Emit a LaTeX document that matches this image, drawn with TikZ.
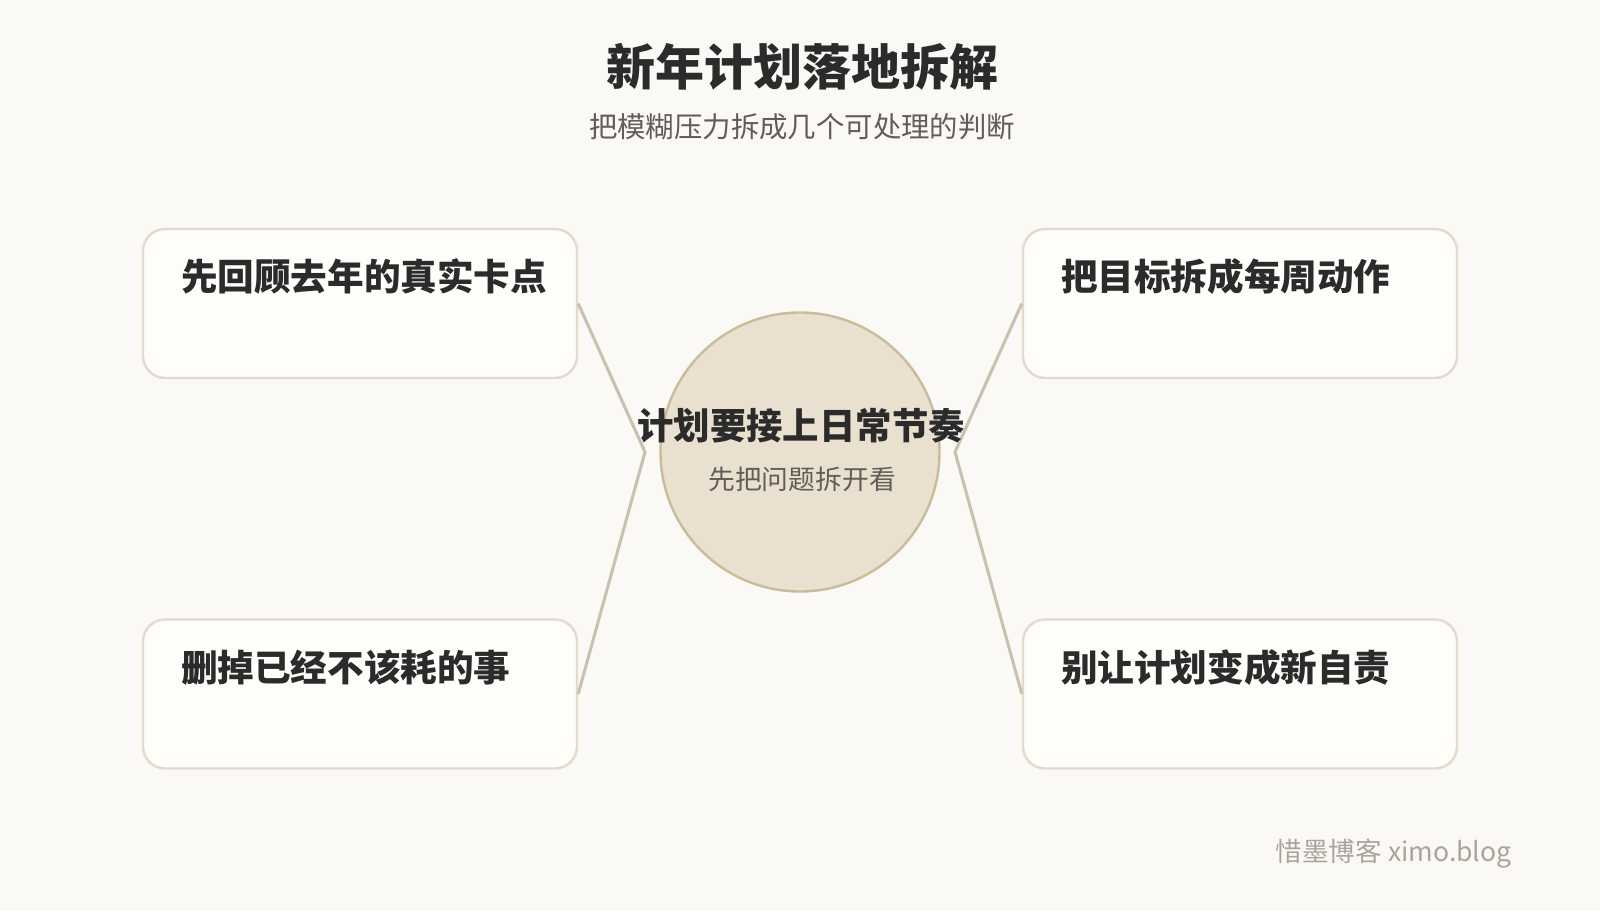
\documentclass[tikz,border=0pt]{standalone}
\usepackage{fontspec}
\setmainfont{Noto Sans CJK SC}
\usetikzlibrary{positioning}

\definecolor{pagebg}{HTML}{FAF9F6}
\definecolor{boxfill}{HTML}{FEFDFA}
\definecolor{boxline}{HTML}{E2DACB}
\definecolor{hubfill}{HTML}{E9E0CF}
\definecolor{hubline}{HTML}{CABC9B}
\definecolor{linkline}{HTML}{C9C0AF}
\definecolor{inkdark}{HTML}{2B2B2B}
\definecolor{inkgrey}{HTML}{615E59}
\definecolor{inkfaint}{HTML}{A9A59B}

\begin{document}
\begin{tikzpicture}[x=0.5pt, y=-0.5pt,
    card/.style={draw=boxline, line width=1.2pt, fill=boxfill, rounded corners=11pt,
      minimum width=217pt, minimum height=74.5pt, inner sep=0pt},
    cardtext/.style={anchor=west, inner sep=0pt, text=inkdark, font=\fontsize{18.3}{21}\selectfont\bfseries},
    link/.style={draw=linkline, line width=1.5pt}]
  % Page
  \fill[pagebg] (0,0) rectangle (1600,911);
  \useasboundingbox (0,0) rectangle (1600,911);

  % Heading
  \node[inner sep=0pt, text=inkdark, font=\fontsize{24.5}{28}\selectfont\bfseries] (title) at (802,67) {新年计划落地拆解};
  \node[inner sep=0pt, text=inkgrey, font=\fontsize{14.2}{17}\selectfont] (subtitle) at (802,127) {把模糊压力拆成几个可处理的判断};

  % Cards
  \node[card] (c1) at (360,303.5) {};
  \node[card] (c2) at (1240,303.5) {};
  \node[card] (c3) at (360,694) {};
  \node[card] (c4) at (1240,694) {};

  % Hub
  \coordinate (hl) at (645,452);
  \coordinate (hr) at (955,452);
  \draw[link] (c1.east) -- (hl) -- (c3.east);
  \draw[link] (c2.west) -- (hr) -- (c4.west);
  \node[circle, draw=hubline, line width=1.2pt, fill=hubfill, minimum size=139.5pt, inner sep=0pt] (hub) at (800,452) {};
  \node[inner sep=0pt, text=inkdark, font=\fontsize{18.2}{21}\selectfont\bfseries] (hubtitle) at (801,426) {计划要接上日常节奏};
  \node[inner sep=0pt, text=inkgrey, font=\fontsize{13.4}{16}\selectfont] (hubsub) at (802,479) {先把问题拆开看};

  % Card labels
  \node[cardtext] (t1) at ([xshift=19.4pt, yshift=-24.5pt]c1.north west) {先回顾去年的真实卡点};
  \node[cardtext] (t2) at ([xshift=19.4pt, yshift=-24.5pt]c2.north west) {把目标拆成每周动作};
  \node[cardtext] (t3) at ([xshift=19.4pt, yshift=-24.5pt]c3.north west) {删掉已经不该耗的事};
  \node[cardtext] (t4) at ([xshift=19.4pt, yshift=-24.5pt]c4.north west) {别让计划变成新自责};

  % Footer
  \node[anchor=east, inner sep=0pt, text=inkfaint, font=\fontsize{13.3}{16}\selectfont] (sign) at (1512,854) {惜墨博客 ximo.blog};
\end{tikzpicture}
\end{document}
